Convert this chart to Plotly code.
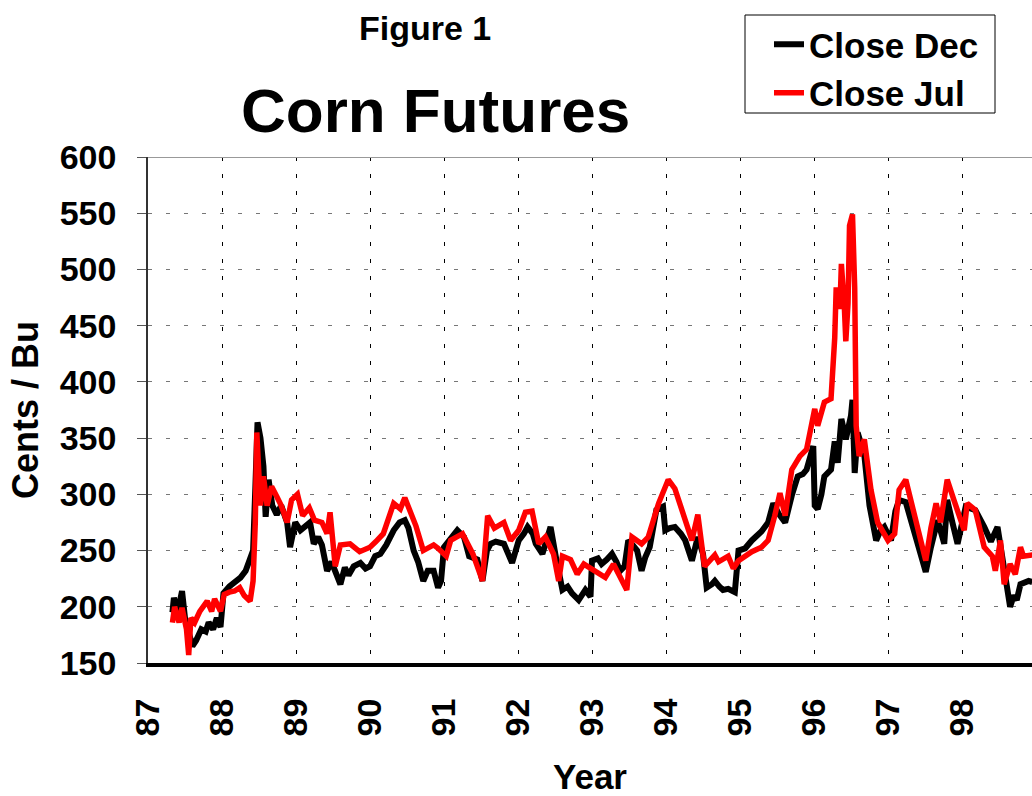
import plotly.graph_objects as go

# ---- data ----
dec_year = [87.33, 87.35, 87.40, 87.46, 87.50, 87.55, 87.60, 87.65, 87.72, 87.78, 87.82, 87.88, 87.93, 87.98,
            88.02, 88.10, 88.18, 88.25, 88.32, 88.38, 88.42, 88.45, 88.48, 88.52, 88.56, 88.59, 88.63, 88.68,
            88.74, 88.80, 88.88, 88.92, 88.96, 88.99, 89.06, 89.12, 89.19, 89.24, 89.30, 89.35, 89.42, 89.48,
            89.55, 89.60, 89.66, 89.71, 89.78, 89.87, 89.94, 90.00, 90.07, 90.14, 90.22, 90.32, 90.40, 90.47,
            90.52, 90.59, 90.65, 90.72, 90.78, 90.86, 90.92, 90.96, 91.00, 91.07, 91.18, 91.27, 91.34, 91.45,
            91.52, 91.58, 91.63, 91.70, 91.81, 91.92, 92.01, 92.08, 92.13, 92.20, 92.24, 92.33, 92.40, 92.44,
            92.51, 92.56, 92.60, 92.67, 92.73, 92.82, 92.91, 92.98, 93.00, 93.08, 93.13, 93.20, 93.27, 93.33,
            93.38, 93.44, 93.49, 93.55, 93.61, 93.67, 93.72, 93.78, 93.87, 93.96, 93.99, 94.05, 94.12, 94.20,
            94.26, 94.35, 94.43, 94.50, 94.55, 94.62, 94.66, 94.72, 94.77, 94.84, 94.93, 94.98, 95.07, 95.16,
            95.22, 95.29, 95.38, 95.45, 95.52, 95.61, 95.70, 95.78, 95.85, 95.90, 95.99, 96.01, 96.05, 96.10,
            96.14, 96.23, 96.28, 96.32, 96.37, 96.43, 96.50, 96.52, 96.55, 96.59, 96.68, 96.75, 96.84, 96.90,
            96.95, 97.04, 97.10, 97.15, 97.24, 97.35, 97.44, 97.51, 97.58, 97.67, 97.76, 97.80, 97.87, 97.94,
            98.05, 98.18, 98.30, 98.39, 98.48, 98.55, 98.60, 98.65, 98.70, 98.74, 98.79, 98.90, 98.95]
dec_close = [195, 208, 195, 214, 190, 175, 165, 170, 180, 178, 186, 180, 190, 182,
             212, 218, 222, 226, 232, 241, 250, 305, 364, 350, 325, 280, 313, 290,
             282, 290, 275, 253, 270, 275, 268, 272, 275, 256, 262, 255, 232, 240,
             228, 220, 235, 228, 236, 239, 234, 236, 245, 247, 255, 268, 275, 277,
             270, 250, 240, 223, 232, 232, 217, 223, 253, 259, 268, 262, 245, 242,
             223, 250, 256, 258, 256, 239, 259, 265, 271, 265, 256, 247, 262, 271,
             245, 230, 215, 218, 212, 206, 215, 209, 241, 243, 238, 242, 247, 240,
             232, 236, 259, 255, 250, 232, 244, 253, 286, 289, 268, 270, 271, 265,
             259, 241, 262, 247, 217, 220, 223, 218, 215, 216, 213, 250, 252, 259,
             263, 267, 275, 292, 283, 275, 299, 316, 318, 322, 343, 290, 287, 300,
             316, 322, 347, 328, 367, 349, 370, 384, 319, 355, 335, 290, 259, 268,
             271, 259, 285, 295, 293, 268, 245, 231, 253, 277, 256, 295, 275, 256,
             289, 286, 271, 258, 271, 240, 223, 200, 210, 206, 220, 223, 222]

jul_year = [87.33, 87.36, 87.42, 87.46, 87.52, 87.55, 87.58, 87.63, 87.70, 87.75, 87.80, 87.86, 87.90, 87.98,
            88.03, 88.10, 88.17, 88.24, 88.30, 88.38, 88.42, 88.45, 88.47, 88.52, 88.56, 88.61, 88.67, 88.74,
            88.80, 88.88, 88.94, 89.02, 89.09, 89.18, 89.25, 89.35, 89.42, 89.46, 89.53, 89.60, 89.73, 89.86,
            90.00, 90.08, 90.18, 90.32, 90.41, 90.47, 90.55, 90.62, 90.72, 90.86, 90.92, 90.97, 91.03, 91.09,
            91.25, 91.39, 91.52, 91.59, 91.68, 91.81, 91.90, 92.01, 92.10, 92.19, 92.28, 92.37, 92.48, 92.55,
            92.60, 92.71, 92.80, 92.89, 92.96, 93.04, 93.18, 93.29, 93.38, 93.47, 93.54, 93.67, 93.76, 93.90,
            94.03, 94.12, 94.21, 94.35, 94.43, 94.52, 94.66, 94.71, 94.84, 94.91, 94.98, 95.16, 95.29, 95.38,
            95.47, 95.54, 95.61, 95.70, 95.81, 95.90, 96.01, 96.05, 96.14, 96.23, 96.28, 96.30, 96.35, 96.37,
            96.41, 96.43, 96.46, 96.48, 96.52, 96.55, 96.57, 96.61, 96.68, 96.77, 96.86, 97.00, 97.09, 97.15,
            97.24, 97.33, 97.40, 97.51, 97.58, 97.65, 97.71, 97.80, 97.89, 98.03, 98.07, 98.18, 98.30, 98.41,
            98.45, 98.52, 98.57, 98.65, 98.72, 98.79, 98.83, 98.90, 98.95]
jul_close = [186, 200, 186, 199, 180, 157, 190, 186, 196, 200, 205, 196, 207, 196,
             211, 213, 214, 217, 210, 205, 223, 275, 355, 290, 316, 290, 307, 298,
             290, 275, 295, 300, 281, 288, 277, 275, 265, 284, 236, 255, 256, 249,
             253, 258, 265, 292, 287, 297, 285, 272, 250, 255, 252, 248, 245, 259,
             265, 247, 223, 281, 270, 275, 259, 268, 284, 285, 256, 262, 247, 223,
             245, 242, 229, 238, 235, 232, 226, 238, 226, 215, 262, 256, 262, 292,
             313, 305, 287, 259, 282, 236, 246, 240, 245, 234, 241, 249, 253, 259,
             281, 301, 281, 322, 334, 340, 376, 361, 382, 385, 439, 484, 465, 505,
             467, 436, 470, 539, 549, 484, 361, 334, 349, 304, 275, 259, 265, 304,
             313, 289, 271, 241, 270, 292, 275, 313, 295, 268, 292, 286, 253, 245,
             232, 259, 220, 238, 229, 253, 245, 245, 246]

year_ticks = list(range(87, 99))
year_labels = [str(y) for y in year_ticks]
price_ticks = list(range(150, 601, 50))

FONT = "Liberation Sans, Arial, sans-serif"

# plot area in page pixels: x 148..1032, y 157..663
L, T, PW, PH = 148, 157, 884, 506
def px(x):
    return (x - L) / PW
def py(y):
    return (T + PH - y) / PH

fig = go.Figure()
fig.add_trace(go.Scatter(x=dec_year, y=dec_close, mode="lines", name="Close Dec",
                         line=dict(color="#000000", width=6)))
fig.add_trace(go.Scatter(x=jul_year, y=jul_close, mode="lines", name="Close Jul",
                         line=dict(color="#ff0000", width=5.5)))

fig.update_layout(
    width=1032, height=796,
    margin=dict(l=L, r=1032 - L - PW, t=T, b=796 - T - PH, autoexpand=False),
    paper_bgcolor="white", plot_bgcolor="white",
    font=dict(family=FONT, size=34, color="black"),
    showlegend=True,
    legend=dict(x=px(769), y=py(15), xanchor="left", yanchor="top",
                bgcolor="rgba(0,0,0,0)", borderwidth=0,
                font=dict(family=FONT, size=35, color="black", weight="bold"),
                tracegroupgap=0, itemwidth=30),
    xaxis=dict(range=[87, 87 + PW / 74], tickmode="array", tickvals=year_ticks, ticktext=year_labels,
               tickangle=-90, tickfont=dict(family=FONT, size=34, weight="bold"),
               showgrid=True, gridcolor="black", gridwidth=1, griddash="4px,13px",
               showline=True, linecolor="black", linewidth=4, ticks="", zeroline=False,
               ticklabelstandoff=18, automargin=False,
               title=dict(text="<b>Year</b>", font=dict(family=FONT, size=35), standoff=32)),
    yaxis=dict(range=[150, 600], tickmode="array", tickvals=price_ticks,
               tickfont=dict(family=FONT, size=34, weight="bold"),
               showgrid=True, gridcolor="#777777", gridwidth=1, griddash="4px,14px",
               showline=True, linecolor="#333333", linewidth=1.5, ticks="outside", ticklen=9,
               tickcolor="#555555", zeroline=False, ticklabelstandoff=14, automargin=False,
               title=dict(text="<b>Cents / Bu</b>", font=dict(family=FONT, size=36), standoff=10)),
)

# top border of plot area
fig.add_shape(type="line", xref="paper", yref="y", x0=0, x1=1, y0=600, y1=600,
              line=dict(color="#999999", width=2))
# legend box
fig.add_shape(type="rect", xref="paper", yref="paper", x0=px(745), x1=px(995), y0=py(15), y1=py(113),
              line=dict(color="black", width=1), fillcolor="white", layer="above")

fig.add_annotation(text="<b>Figure 1</b>", xref="paper", yref="paper",
                   x=px(425), y=py(28), xanchor="center", yanchor="middle",
                   showarrow=False, font=dict(family=FONT, size=34, color="black"))
fig.add_annotation(text="<b>Corn Futures</b>", xref="paper", yref="paper",
                   x=px(435), y=py(110), xanchor="center", yanchor="middle",
                   showarrow=False, font=dict(family=FONT, size=62, color="black"))

fig.write_html("out.html", config={"displayModeBar": False},
               post_script="document.body.style.margin='0px';document.body.style.overflow='hidden';")
